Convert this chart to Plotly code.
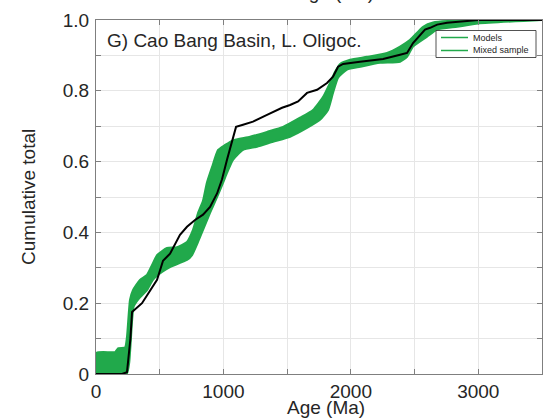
import plotly.graph_objects as go

# ---- data ----
upper_age = [0, 5, 150, 175, 228, 243, 267, 290, 345, 400, 440, 479, 557, 636, 714, 761, 801, 840,
             870, 911, 958, 1013, 1075, 1209, 1342, 1468, 1601, 1703, 1782, 1837, 1876, 1915, 1994,
             2127, 2284, 2386, 2465, 2567, 2645, 2800, 3500]
upper_val = [0, 0.06, 0.062, 0.073, 0.075, 0.105, 0.21, 0.237, 0.266, 0.28, 0.308, 0.336, 0.356,
             0.358, 0.373, 0.407, 0.455, 0.49, 0.54, 0.585, 0.633, 0.647, 0.66, 0.67, 0.684, 0.698,
             0.724, 0.746, 0.783, 0.823, 0.854, 0.876, 0.888, 0.896, 0.907, 0.925, 0.944, 0.981,
             0.993, 0.998, 1.0]

lower_age = [0, 240, 260, 283, 295, 330, 400, 447, 518, 581, 659, 714, 754, 801, 840, 895, 950,
             997, 1028, 1075, 1154, 1264, 1389, 1523, 1656, 1758, 1821, 1860, 1900, 1970, 2072,
             2229, 2386, 2441, 2488, 2598, 2677, 2834, 3000, 3500]
lower_val = [0, 0, 0.03, 0.15, 0.19, 0.21, 0.237, 0.266, 0.288, 0.302, 0.314, 0.322, 0.336, 0.373,
             0.407, 0.455, 0.50, 0.54, 0.568, 0.605, 0.633, 0.642, 0.656, 0.67, 0.695, 0.718,
             0.746, 0.794, 0.837, 0.86, 0.868, 0.879, 0.882, 0.896, 0.925, 0.953, 0.973, 0.981,
             0.99, 1.0]

mix_age = [0, 204, 243, 270, 283, 300, 361, 479, 526, 581, 620, 659, 714, 777, 840, 895, 950, 989,
           1028, 1068, 1099, 1154, 1232, 1342, 1460, 1523, 1586, 1656, 1735, 1813, 1860, 1900,
           1939, 2072, 2253, 2386, 2441, 2488, 2543, 2582, 2622, 2677, 2755, 2900, 3000, 3500]
mix_val = [0, 0, 0.005, 0.1, 0.175, 0.18, 0.2, 0.266, 0.32, 0.34, 0.365, 0.393, 0.416, 0.435,
           0.45, 0.472, 0.51, 0.55, 0.605, 0.66, 0.698, 0.704, 0.713, 0.732, 0.752, 0.76, 0.77,
           0.794, 0.803, 0.822, 0.84, 0.868, 0.876, 0.882, 0.89, 0.902, 0.907, 0.935, 0.958,
           0.973, 0.978, 0.987, 0.992, 0.997, 1.0, 1.0]

legend_names = ["Models", "Mixed sample"]

x_ticks = [0, 500, 1000, 1500, 2000, 2500, 3000, 3500]
x_labels = ["0", "", "1000", "", "2000", "", "3000", ""]
y_ticks = [0, 0.1, 0.2, 0.3, 0.4, 0.5, 0.6, 0.7, 0.8, 0.9, 1.0]
y_labels = ["0", "", "0.2", "", "0.4", "", "0.6", "", "0.8", "", "1.0"]

GREEN = "#21a94b"
TXT = "#262626"
FONT = "Liberation Sans, Arial, sans-serif"

fig = go.Figure()
fig.add_trace(go.Scatter(x=lower_age, y=lower_val, mode="lines", name="Models",
                         line=dict(color=GREEN, width=2, shape="spline", smoothing=0.5),
                         showlegend=False, hoverinfo="skip"))
fig.add_trace(go.Scatter(x=upper_age, y=upper_val, mode="lines", fill="tonexty",
                         fillcolor=GREEN,
                         line=dict(color=GREEN, width=2, shape="spline", smoothing=0.5),
                         showlegend=False, hoverinfo="skip"))
fig.add_trace(go.Scatter(x=mix_age, y=mix_val, mode="lines", name="Mixed sample",
                         line=dict(color="black", width=2), showlegend=False))

axis_common = dict(showline=True, linecolor="#7f7f7f", linewidth=1, mirror="allticks",
                   ticks="inside", ticklen=5, tickcolor="#7f7f7f", showgrid=True,
                   gridcolor="#e6e6e6", gridwidth=1, zeroline=False,
                   tickfont=dict(family=FONT, size=19, color=TXT))


def px_x(p):
    return (p - 96) / 446.0


def px_y(p):
    return (374 - p) / 354.0


# legend box as in the original MATLAB figure (both entries drawn green)
shapes = [dict(type="rect", xref="paper", yref="paper", x0=px_x(436), x1=px_x(536),
               y0=px_y(57.5), y1=px_y(30.5), fillcolor="white",
               line=dict(color=TXT, width=0.8), layer="above")]
annotations = []
for i, nm in enumerate(legend_names):
    yy = px_y(37.5 + 13 * i)
    shapes.append(dict(type="line", xref="paper", yref="paper", x0=px_x(441), x1=px_x(468),
                       y0=yy, y1=yy, line=dict(color=GREEN, width=1.5), layer="above"))
    annotations.append(dict(text=nm, xref="paper", yref="paper", x=px_x(471), y=yy,
                            xanchor="left", yanchor="middle", showarrow=False,
                            font=dict(family=FONT, size=9, color=TXT)))

annotations += [
    dict(text="G) Cao Bang Basin, L. Oligoc.", xref="paper", yref="paper",
         x=0.02, y=0.9435, xanchor="left", yanchor="middle", showarrow=False,
         font=dict(family=FONT, size=19, color=TXT)),
    dict(text="Age (Ma)", xref="paper", yref="paper", x=0.5157, y=-0.094,
         xanchor="center", yanchor="middle", showarrow=False,
         font=dict(family=FONT, size=19, color=TXT)),
    dict(text="Cumulative total", xref="paper", yref="paper", x=-0.1525, y=0.5,
         xanchor="center", yanchor="middle", textangle=-90, showarrow=False,
         font=dict(family=FONT, size=19, color=TXT)),
    dict(text="Age (Ma)", xref="paper", yref="paper", x=0.536, y=1.079,
         xanchor="center", yanchor="middle", showarrow=False,
         font=dict(family=FONT, size=19, color=TXT)),
]

fig.update_layout(
    width=543, height=419,
    margin=dict(l=96, r=1, t=20, b=45),
    paper_bgcolor="white", plot_bgcolor="white",
    showlegend=False,
    xaxis=dict(range=[0, 3500], tickmode="array", tickvals=x_ticks, ticktext=x_labels,
               **axis_common),
    yaxis=dict(range=[0, 1], tickmode="array", tickvals=y_ticks, ticktext=y_labels,
               ticklabelstandoff=2, **axis_common),
    shapes=shapes,
    annotations=annotations,
)

fig.write_html("out.html")
